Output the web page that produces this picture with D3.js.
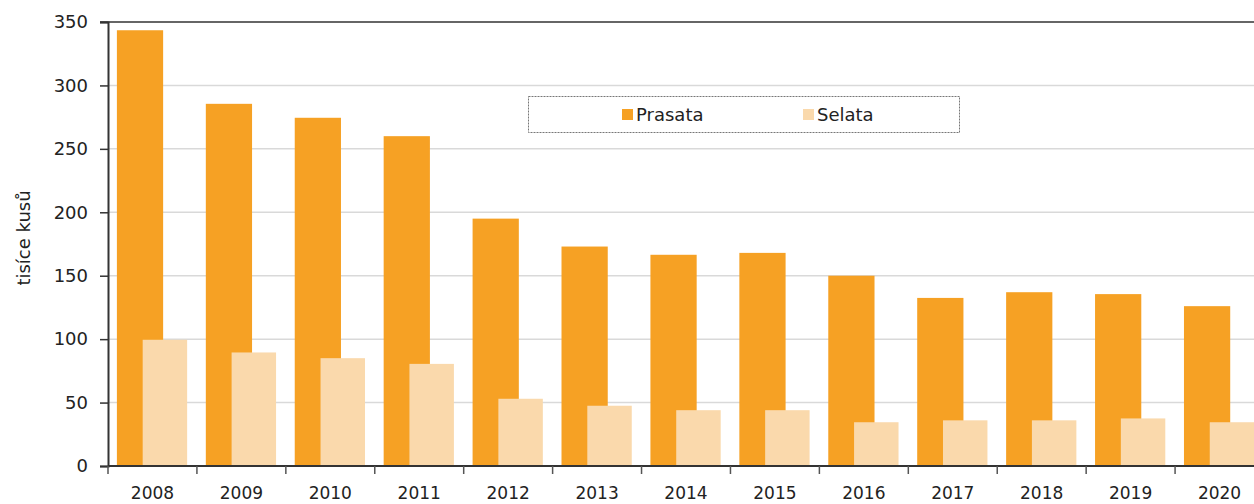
<!DOCTYPE html>
<html>
<head>
<meta charset="utf-8">
<script src="https://cdn.jsdelivr.net/npm/d3@7"></script>
<style>
  body { margin: 0; background: #fff; }
  svg { display: block; font-family: "DejaVu Sans", Verdana, sans-serif; }
</style>
</head>
<body>
<div id="chart"></div>
<script>
// data (tisíce kusů)
const years = ["2008", "2009", "2010", "2011", "2012", "2013", "2014", "2015", "2016", "2017", "2018", "2019", "2020"];
const prasata = [343.5, 285.5, 274.5, 260, 195, 173, 166.5, 168, 150, 132.5, 137, 135.5, 126];
const selata = [99.5, 89.5, 85, 80.5, 53, 47.5, 44, 44, 34.5, 36, 36, 37.5, 34.5];
const yTicks = [0, 50, 100, 150, 200, 250, 300, 350];
const seriesNames = ["Prasata", "Selata"];
const colors = ["#F6A124", "#FAD9AC"];

const width = 1254, height = 504;
const margin = { top: 22, right: -10, bottom: 38, left: 108 };
const innerW = width - margin.left - margin.right;
const innerH = height - margin.top - margin.bottom;

const svg = d3.select("#chart").append("svg")
  .attr("width", width)
  .attr("height", height);

const g = svg.append("g")
  .attr("transform", `translate(${margin.left},${margin.top})`);

const x = d3.scaleBand().domain(years).range([0, innerW]).padding(0);
const y = d3.scaleLinear().domain([0, 350]).range([innerH, 0]);

/* grid lines */
g.append("g")
  .selectAll("line")
  .data(yTicks.filter(d => d > 0 && d < 350))
  .join("line")
  .attr("x1", 0)
  .attr("x2", innerW)
  .attr("y1", d => y(d))
  .attr("y2", d => y(d))
  .attr("stroke", "#d9d9d9")
  .attr("stroke-width", 1.5);

/* top border */
g.append("line")
  .attr("x1", -8).attr("x2", innerW)
  .attr("y1", 0).attr("y2", 0)
  .attr("stroke", "#333").attr("stroke-width", 1.5);

const bw = x.bandwidth();

/* Prasata bars */
g.append("g")
  .selectAll("rect")
  .data(prasata)
  .join("rect")
  .attr("x", (d, i) => x(years[i]) + bw * 0.1)
  .attr("width", bw * 0.52)
  .attr("y", d => y(d))
  .attr("height", d => y(0) - y(d))
  .attr("fill", colors[0]);

/* Selata bars, overlapping */
g.append("g")
  .selectAll("rect")
  .data(selata)
  .join("rect")
  .attr("x", (d, i) => x(years[i]) + bw * 0.39)
  .attr("width", bw * 0.5)
  .attr("y", d => y(d))
  .attr("height", d => y(0) - y(d))
  .attr("fill", colors[1]);

/* y axis */
const yAxis = g.append("g")
  .call(d3.axisLeft(y).tickValues(yTicks).tickSize(8).tickPadding(12));
yAxis.select(".domain").attr("stroke", "#333").attr("stroke-width", 2);
yAxis.selectAll(".tick line").attr("stroke", "#333").attr("stroke-width", 1.5);
yAxis.selectAll("text").attr("font-size", 18).attr("fill", "#222")
  .attr("font-family", "DejaVu Sans");

/* x axis with ticks at category boundaries */
const xAxisG = g.append("g").attr("transform", `translate(0,${innerH})`);
xAxisG.append("line")
  .attr("x1", 0).attr("x2", innerW)
  .attr("stroke", "#333").attr("stroke-width", 2);
xAxisG.selectAll(".btick")
  .data(years)
  .join("line")
  .attr("class", "btick")
  .attr("x1", d => x(d)).attr("x2", d => x(d))
  .attr("y1", 0).attr("y2", 8)
  .attr("stroke", "#555").attr("stroke-width", 1.5);
xAxisG.selectAll(".xlab")
  .data(years)
  .join("text")
  .attr("class", "xlab")
  .attr("x", d => x(d) + bw / 2)
  .attr("y", 33)
  .attr("text-anchor", "middle")
  .attr("font-size", 17)
  .attr("fill", "#222")
  .text(d => d);

/* y axis title */
svg.append("text")
  .attr("transform", `translate(30,238) rotate(-90)`)
  .attr("text-anchor", "middle")
  .attr("font-size", 18)
  .attr("fill", "#222")
  .text("tisíce kusů");

/* legend */
const legend = svg.append("g");
legend.append("rect")
  .attr("x", 528.5).attr("y", 96.5)
  .attr("width", 431).attr("height", 36)
  .attr("fill", "#fff")
  .attr("stroke", "#777")
  .attr("stroke-dasharray", "2,1");
const legX = [622, 803];
seriesNames.forEach((name, i) => {
  legend.append("rect")
    .attr("x", legX[i]).attr("y", 109)
    .attr("width", 11).attr("height", 11)
    .attr("fill", colors[i]);
  legend.append("text")
    .attr("x", legX[i] + 14).attr("y", 121)
    .attr("font-size", 18)
    .attr("fill", "#222")
    .text(name);
});
</script>
</body>
</html>
